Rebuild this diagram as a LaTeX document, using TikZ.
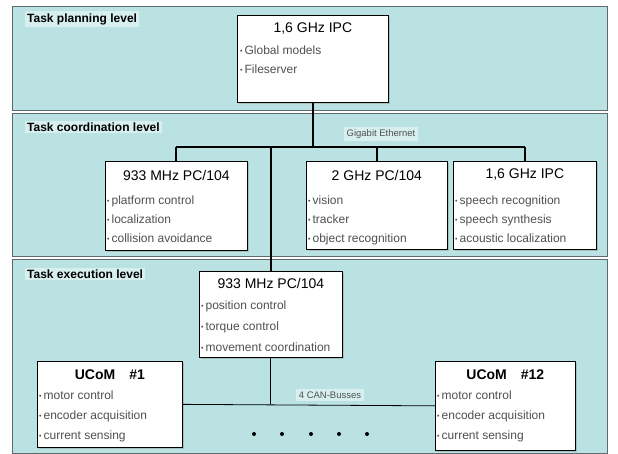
\documentclass[tikz,border=0pt]{standalone}
\usepackage{fontspec}
\setmainfont{Liberation Sans}
\usetikzlibrary{shadows}

\definecolor{bandfill}{RGB}{186,226,226}
\definecolor{bandline}{RGB}{95,105,110}
\definecolor{patchfill}{RGB}{216,239,239}
\definecolor{itemgray}{RGB}{80,80,80}

\newcommand{\blt}{{\fontsize{7}{7}\selectfont\raisebox{1pt}{•}}\,}

\tikzset{
  band/.style={fill=bandfill, draw=bandline, line width=0.8pt},
  level/.style={anchor=west, fill=patchfill, inner sep=2pt,
    font=\fontsize{12}{14}\selectfont\bfseries},
  pcbox/.style={draw=black, fill=white, line width=0.7pt, anchor=north west,
    drop shadow={shadow xshift=1.5pt, shadow yshift=-1.5pt, opacity=0.35}},
  boxtitle/.style={font=\fontsize{14}{16}\selectfont},
  items/.style={anchor=north west, align=left, text=itemgray, inner sep=0pt,
    font=\fontsize{12}{19}\selectfont},
  gbit/.style={line width=2.2pt},
  can/.style={line width=0.8pt},
  buslabel/.style={fill=patchfill, text=itemgray, inner sep=2.5pt,
    font=\fontsize{9.5}{11}\selectfont}
}

\begin{document}
\begin{tikzpicture}[x=1pt, y=-1pt]
  \useasboundingbox (0,0) rectangle (618,454);

  % levels
  \draw[band] (12,6) rectangle (607,110);
  \draw[band] (12,113) rectangle (607,256);
  \draw[band] (12,259) rectangle (607,453);
  \node[level] (lplan) at (25,19) {Task planning level};
  \node[level] (lcoord) at (25,127) {Task coordination level};
  \node[level] (lexec) at (25,274) {Task execution level};

  % planning
  \node[pcbox, minimum width=151pt, minimum height=87pt] (ipc0) at (237,15) {};
  \node[boxtitle] at ([yshift=-14pt]ipc0.north) {1,6 GHz IPC};
  \node[items] at (240,46) {\blt Global models\\\blt Fileserver};

  % coordination
  \node[pcbox, minimum width=142pt, minimum height=89pt] (pcA) at (105,161) {};
  \node[boxtitle] at ([yshift=-14pt]pcA.north) {933 MHz PC/104};
  \node[items] at (107,196) {\blt platform control\\\blt localization\\\blt collision avoidance};

  \node[pcbox, minimum width=141pt, minimum height=88pt] (pcB) at (306,161) {};
  \node[boxtitle] at ([yshift=-14pt]pcB.north) {2 GHz PC/104};
  \node[items] at (308,196) {\blt vision\\\blt tracker\\\blt object recognition};

  \node[pcbox, minimum width=143pt, minimum height=88pt] (ipc1) at (453,161) {};
  \node[boxtitle] at ([yshift=-14pt]ipc1.north) {1,6 GHz IPC};
  \node[items] at (455,196) {\blt speech recognition\\\blt speech synthesis\\\blt acoustic localization};

  % execution
  \node[pcbox, minimum width=143pt, minimum height=86pt] (pcC) at (199,271) {};
  \node[boxtitle] at ([yshift=-12pt]pcC.north) {933 MHz PC/104};
  \node[items, font=\fontsize{12}{21}\selectfont] at (201,301) {\blt position control\\\blt torque control\\\blt movement coordination};

  \node[pcbox, minimum width=145pt, minimum height=86pt] (ucom1) at (37,361) {};
  \node[boxtitle, font=\fontsize{14}{16}\selectfont\bfseries] at ([yshift=-14pt]ucom1.north) {UCoM\quad\#1};
  \node[items, font=\fontsize{12}{20}\selectfont] at (39,391) {\blt motor control\\\blt encoder acquisition\\\blt current sensing};

  \node[pcbox, minimum width=140pt, minimum height=89pt] (ucom12) at (435,361) {};
  \node[boxtitle, font=\fontsize{14}{16}\selectfont\bfseries] at ([yshift=-14pt]ucom12.north) {UCoM\quad\#12};
  \node[items, font=\fontsize{12}{20}\selectfont] at (437,391) {\blt motor control\\\blt encoder acquisition\\\blt current sensing};

  % gigabit ethernet
  \coordinate (busL) at (pcA.north |- 0,147);
  \coordinate (busR) at (ipc1.north |- 0,147);
  \draw[gbit] (busL) -- (busR);
  \draw[gbit] (ipc0.south) -- (ipc0.south |- busL);
  \draw[gbit] (busL) -- (pcA.north);
  \draw[gbit] (pcB.north |- busL) -- (pcB.north);
  \draw[gbit] (busR) -- (ipc1.north);
  \draw[gbit] (pcC.north |- busL) -- (pcC.north);
  \node[buslabel] (gbe) at (381,134) {Gigabit Ethernet};

  % can busses
  \draw[can] (ucom1.east) -- (ucom12.west);
  \draw[can] (pcC.south) -- (pcC.south |- ucom1.east);
  \node[buslabel] (canlbl) at (330,395) {4 CAN-Busses};
  \foreach \x in {254,282,311,339,367}
    \fill (\x,434) circle (2pt);
\end{tikzpicture}
\end{document}
